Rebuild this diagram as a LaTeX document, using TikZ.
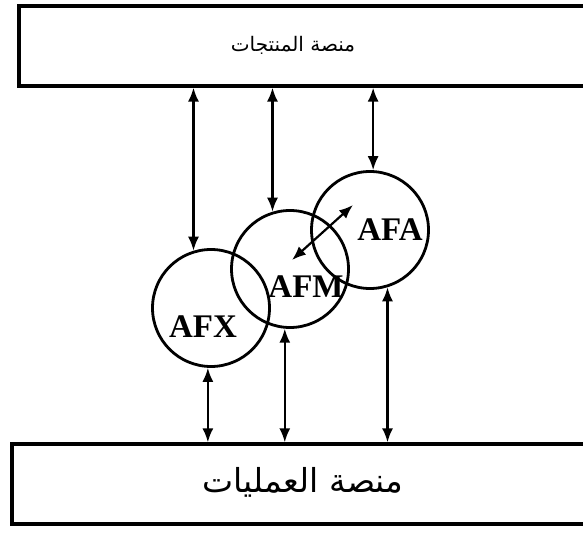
\documentclass[tikz,border=0pt]{standalone}
\usepackage{fontspec}
\setmainfont{Liberation Serif}
\newfontfamily\arabicfont[Script=Arabic]{DejaVu Sans}
\TeXXeTstate=1
\usetikzlibrary{arrows.meta,calc}

\begin{document}
\begin{tikzpicture}[
  x=1pt,
  y=-1pt,
  platform/.style={draw, line width=3.2pt, inner sep=0pt},
  unit/.style={circle, draw, line width=2.8pt, minimum size=117pt, inner sep=0pt},
  tag/.style={font=\fontsize{33}{33}\selectfont\bfseries, inner sep=0pt},
  plabel/.style={inner sep=0pt},
  link/.style={line width=2.2pt, {Latex[length=14pt,width=11pt]}-{Latex[length=14pt,width=11pt]}}
]
  \useasboundingbox (0,0) rectangle (583,534);

  % ---- the two platforms (right edges run off the page) ----
  \node[platform, minimum width=581pt, minimum height=80pt] (prod) at (309.5,46) {};
  \node[plabel, font=\fontsize{20}{20}\selectfont] (prodt) at (293,45)
    {\arabicfont\beginR منصة المنتجات\endR};
  \node[platform, minimum width=588pt, minimum height=80pt] (ops) at (306,484) {};
  \node[plabel, font=\fontsize{33}{33}\selectfont] (opst) at (303,482)
    {\arabicfont\beginR منصة العمليات\endR};

  % ---- the three circles ----
  \node[unit] (afx) at (211,308) {};
  \node[unit] (afm) at (290,269) {};
  \node[unit] (afa) at (370,230) {};
  \node[tag] (afxt) at (203,327) {AFX};
  \node[tag] (afmt) at (306,287) {AFM};
  \node[tag] (afat) at (390,230) {AFA};

  % ---- links to the products platform ----
  \draw[link] (prod.south -| afx.107) -- (afx.107);
  \draw[link] (prod.south -| afm.107) -- (afm.107);
  \draw[link] (prod.south -| afa.87)  -- (afa.87);

  % ---- links to the operations platform ----
  \draw[link] (afx.267) -- (ops.north -| afx.267);
  \draw[link] (afm.265) -- (ops.north -| afm.265);
  \draw[link] (afa.287) -- (ops.north -| afa.287);

  % ---- link between AFM and AFA ----
  \draw[link] ($(afm)+(2,-9)$) -- ($(afa)+(-17,-25)$);
\end{tikzpicture}
\end{document}
